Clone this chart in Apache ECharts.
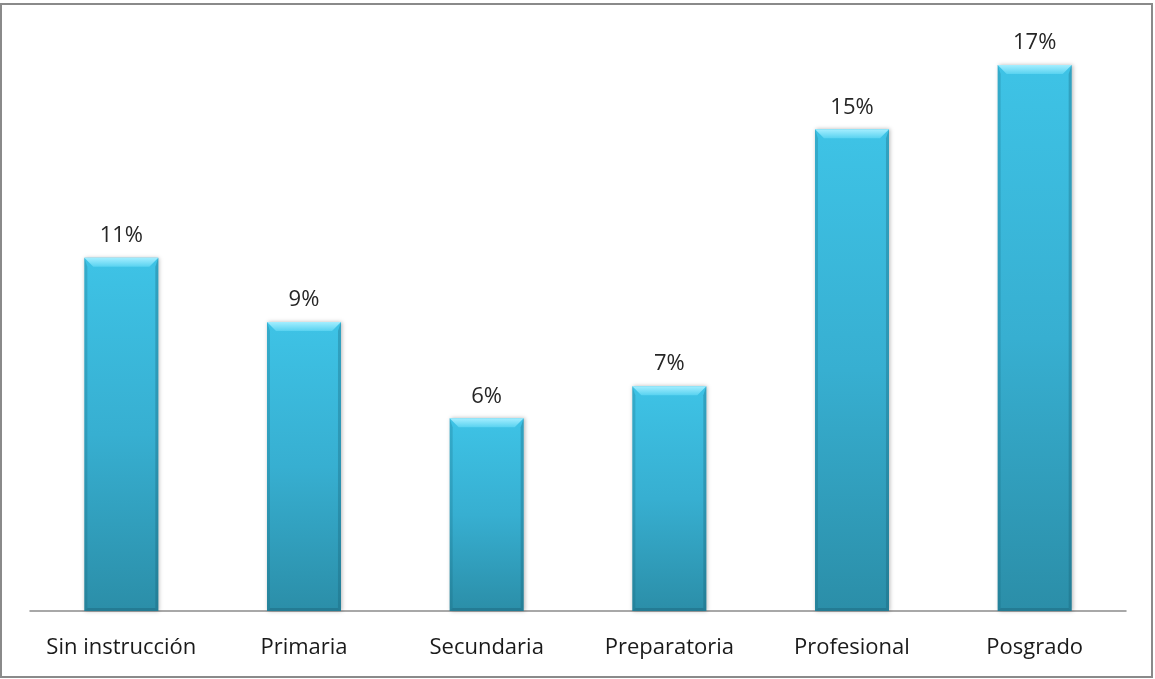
<!DOCTYPE html>
<html>
<head>
<meta charset="utf-8">
<script src="https://cdn.jsdelivr.net/npm/echarts@6/dist/echarts.min.js"></script>
<style>
  html, body { margin: 0; padding: 0; background: #fff; }
  #chart { width: 1155px; height: 679px; }
</style>
</head>
<body>
<div id="chart"></div>
<script>
// Education level categories and their shares (percent)
const categories = ['Sin instrucción', 'Primaria', 'Secundaria', 'Preparatoria', 'Profesional', 'Posgrado'];
const values = [11, 9, 6, 7, 15, 17];

const FONT = '"Open Sans", "Liberation Sans", sans-serif';
const chart = echarts.init(document.getElementById('chart'), null, { renderer: 'canvas' });

// Bevelled column: gradient body, lighter top facet, slightly darker side edges
function renderBevelBar(params, api) {
  const idx = api.value(0);
  const val = api.value(1);
  const top = api.coord([idx, val]);
  const base = api.coord([idx, 0]);
  const bandW = api.size([1, 0])[0];
  const w = bandW * 0.405;
  const x0 = top[0] - w / 2;
  const x1 = top[0] + w / 2;
  const y0 = top[1];
  const y1 = base[1];
  const b = 9; // bevel depth
  const side = 3;
  return {
    type: 'group',
    children: [
      {
        type: 'rect',
        shape: { x: x0, y: y0, width: w, height: y1 - y0 },
        style: {
          fill: new echarts.graphic.LinearGradient(0, 0, 0, 1, [
            { offset: 0, color: '#3ec3e6' },
            { offset: 0.5, color: '#37afd1' },
            { offset: 1, color: '#2b8ea8' }
          ]),
          shadowBlur: 4,
          shadowColor: 'rgba(0,0,0,0.28)',
          shadowOffsetX: 1
        }
      },
      {
        type: 'polygon',
        shape: { points: [[x0, y1], [x0 + side, y1 - side], [x0 + side, y0 + b], [x0, y0]] },
        style: { fill: 'rgba(20,90,110,0.22)' }
      },
      {
        type: 'polygon',
        shape: { points: [[x1, y1], [x1 - side, y1 - side], [x1 - side, y0 + b], [x1, y0]] },
        style: { fill: 'rgba(20,90,110,0.3)' }
      },
      {
        type: 'polygon',
        shape: { points: [[x0 + side, y1 - side], [x1 - side, y1 - side], [x1, y1], [x0, y1]] },
        style: { fill: 'rgba(20,80,100,0.3)' }
      },
      {
        type: 'polygon',
        shape: { points: [[x0, y0], [x1, y0], [x1 - b, y0 + b], [x0 + b, y0 + b]] },
        style: {
          fill: new echarts.graphic.LinearGradient(0, 0, 0, 1, [
            { offset: 0, color: '#a4eeff' },
            { offset: 1, color: '#58d2f0' }
          ])
        }
      },
      {
        type: 'text',
        style: {
          text: val + '%',
          x: top[0],
          y: y0 - 11,
          align: 'center',
          verticalAlign: 'bottom',
          fill: '#262626',
          font: '22px ' + FONT
        }
      }
    ]
  };
}

chart.setOption({
  animation: false,
  grid: { left: 30, right: 29, top: 33, bottom: 68 },
  xAxis: {
    type: 'category',
    data: categories,
    axisLine: { show: true, lineStyle: { color: '#8c8c8c', width: 1.5 } },
    axisTick: { show: false },
    axisLabel: {
      interval: 0,
      color: '#1a1a1a',
      fontSize: 22,
      fontFamily: FONT,
      margin: 26
    }
  },
  yAxis: {
    type: 'value',
    min: 0,
    max: 18,
    show: false,
    splitLine: { show: false }
  },
  graphic: [
    {
      type: 'rect',
      shape: { x: 1, y: 4, width: 1151, height: 673 },
      style: { fill: 'none', stroke: '#8a8a8a', lineWidth: 2 },
      silent: true
    }
  ],
  series: [
    {
      type: 'custom',
      renderItem: renderBevelBar,
      encode: { x: 0, y: 1 },
      data: values.map((v, i) => [i, v])
    }
  ]
});
</script>
</body>
</html>
